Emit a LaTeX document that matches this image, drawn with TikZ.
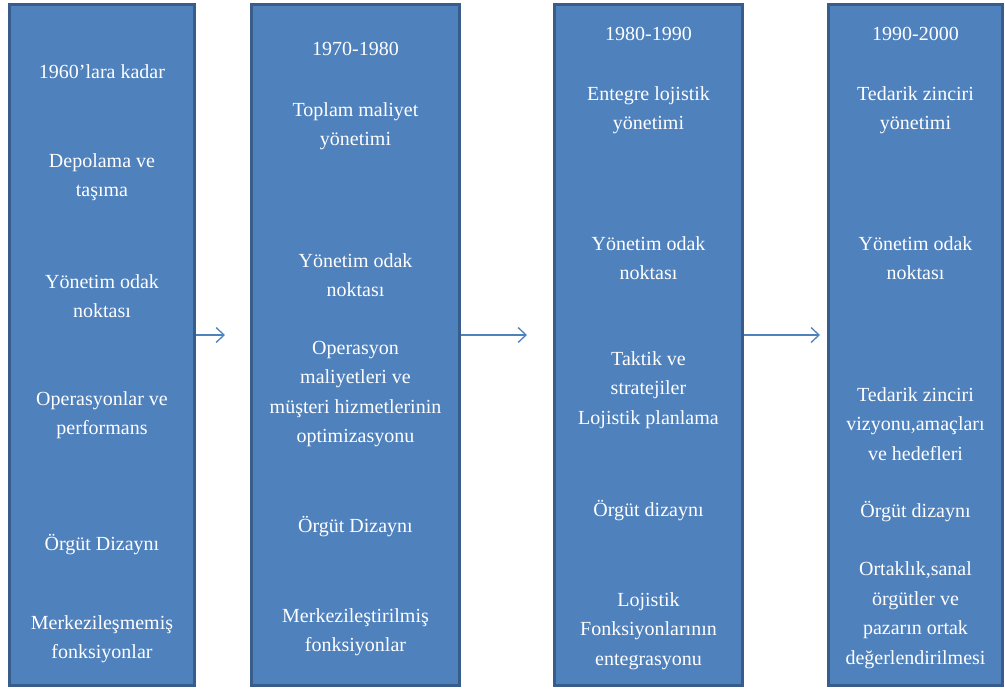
\documentclass[tikz,border=0pt]{standalone}
\usepackage{fontspec}
\setmainfont{Liberation Serif}
\usetikzlibrary{arrows.meta}
\definecolor{boxfill}{HTML}{4F81BD}
\definecolor{boxline}{HTML}{385D8A}
\definecolor{arrowcol}{HTML}{4F81BD}
\begin{document}
\begin{tikzpicture}[x=1pt,y=-1pt,
  era/.style={draw=boxline, line width=3pt, fill=boxfill, inner sep=0pt,
    minimum height=681pt},
  label/.style={text=white, align=center, inner sep=0pt,
    font=\fontsize{20}{29.5}\selectfont},
  flow/.style={draw=arrowcol, line width=1.4pt,
    -{Straight Barb[length=8pt,width=15pt,line width=1.3pt]}}]
\useasboundingbox (0,0) rectangle (1005,690);

% period columns
\node[era, minimum width=185pt] (b1) at (102,345) {};
\node[era, minimum width=208pt] (b2) at (355.5,345) {};
\node[era, minimum width=188pt] (b3) at (648.5,345) {};
\node[era, minimum width=174pt] (b4) at (915.5,345) {};

% column 1
\node[label] (t11) at (102,72) {1960’lara kadar};
\node[label] (t12) at (102,177) {Depolama ve\\taşıma};
\node[label] (t13) at (102,296) {Yönetim odak\\noktası};
\node[label] (t14) at (102,415) {Operasyonlar ve\\performans};
\node[label] (t15) at (102,545) {Örgüt Dizaynı};
\node[label] (t16) at (102,639) {Merkezileşmemiş\\fonksiyonlar};

% column 2
\node[label] (t21) at (355.5,49) {1970-1980};
\node[label] (t22) at (355.5,126) {Toplam maliyet\\yönetimi};
\node[label] (t23) at (355.5,275) {Yönetim odak\\noktası};
\node[label] (t24) at (355.5,394) {Operasyon\\maliyetleri ve\\müşteri hizmetlerinin\\optimizasyonu};
\node[label] (t25) at (355.5,527) {Örgüt Dizaynı};
\node[label] (t26) at (355.5,632) {Merkezileştirilmiş\\fonksiyonlar};

% column 3
\node[label] (t31) at (648.5,34) {1980-1990};
\node[label] (t32) at (648.5,110) {Entegre lojistik\\yönetimi};
\node[label] (t33) at (648.5,258) {Yönetim odak\\noktası};
\node[label] (t34) at (648.5,390) {Taktik ve\\stratejiler\\Lojistik planlama};
\node[label] (t35) at (648.5,511) {Örgüt dizaynı};
\node[label] (t36) at (648.5,631) {Lojistik\\Fonksiyonlarının\\entegrasyonu};

% column 4
\node[label] (t41) at (915.5,34) {1990-2000};
\node[label] (t42) at (915.5,110) {Tedarik zinciri\\yönetimi};
\node[label] (t43) at (915.5,258) {Yönetim odak\\noktası};
\node[label] (t44) at (915.5,424) {Tedarik zinciri\\vizyonu,amaçları\\ve hedefleri};
\node[label] (t45) at (915.5,512) {Örgüt dizaynı};
\node[label] (t46) at (915.5,615) {Ortaklık,sanal\\örgütler ve\\pazarın ortak\\değerlendirilmesi};

% transitions between periods
\coordinate (h1) at (225,335);
\coordinate (h2) at (527,335);
\coordinate (h3) at (820,335);
\draw[flow] (b1.east |- h1) -- (h1);
\draw[flow] (b2.east |- h2) -- (h2);
\draw[flow] (b3.east |- h3) -- (h3);
\end{tikzpicture}
\end{document}
